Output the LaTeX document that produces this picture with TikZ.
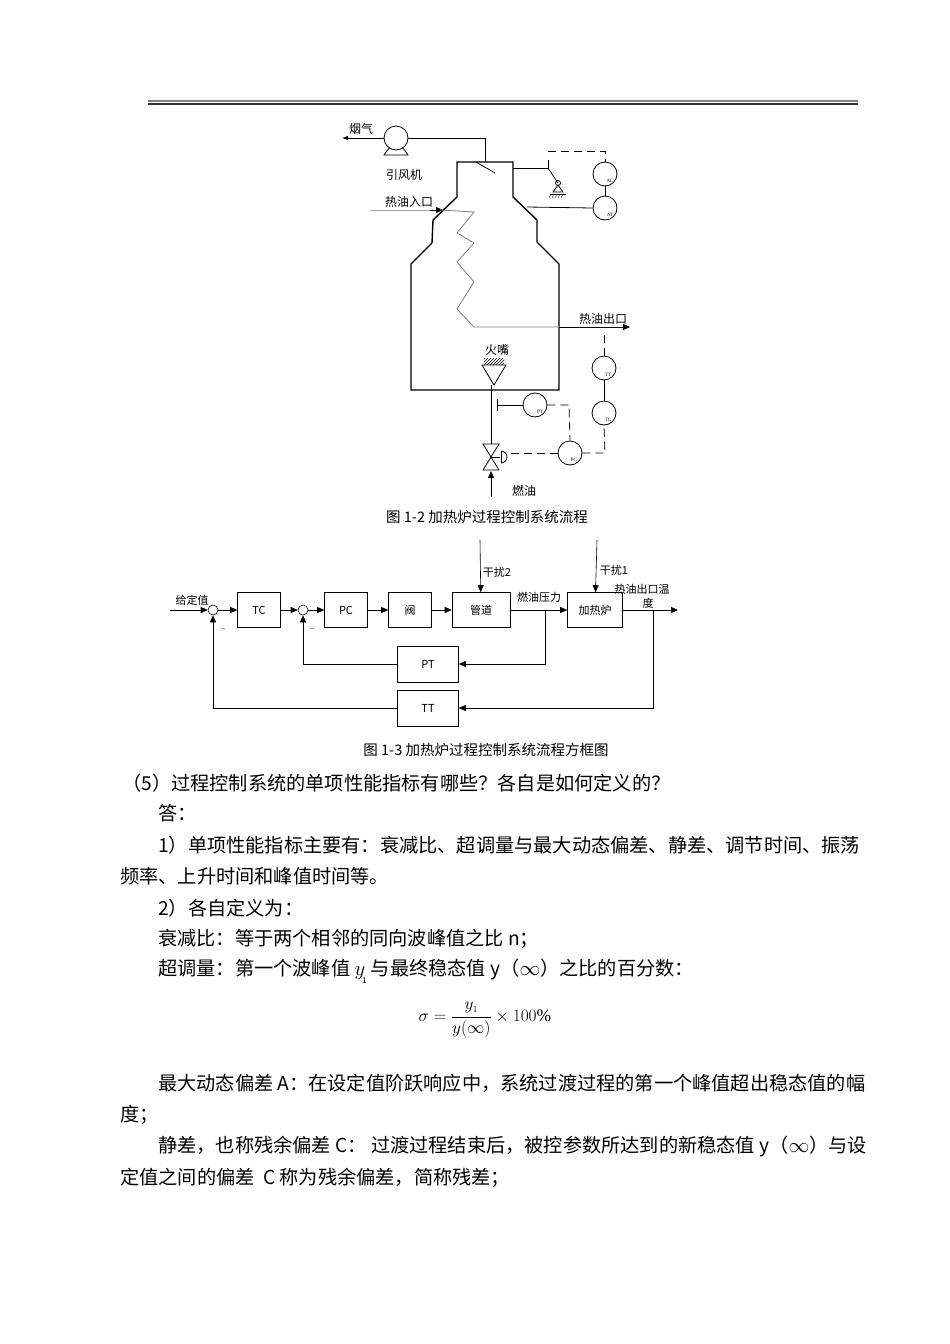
\documentclass[tikz,border=0pt]{standalone}
\usepackage{fontspec}
\setmainfont{Liberation Serif}
\newfontfamily\cjk{Noto Sans CJK SC}
\usetikzlibrary{arrows.meta,patterns}
\tikzset{
 lbl/.style={font=\cjk\fontsize{12}{12}\selectfont,inner sep=0pt},
 capt/.style={font=\cjk\fontsize{14.5}{15}\selectfont,inner sep=0pt},
 body/.style={font=\cjk\fontsize{19.2}{20}\selectfont,inner sep=0pt,anchor=west},
 inst/.style={circle,draw,thick,minimum size=24pt,inner sep=0pt},
 tiny/.style={font=\fontsize{5}{5}\selectfont,inner sep=0pt},
 blk/.style={draw,semithick,minimum width=43pt,minimum height=35pt,inner sep=0pt,font=\cjk\fontsize{11}{11}\selectfont},
 sumc/.style={circle,draw,semithick,minimum size=10pt,inner sep=0pt},
 sig/.style={semithick,-{Triangle[length=7pt,width=6pt]}},
 dsh/.style={thick,dash pattern=on 8pt off 5pt},
}
\begin{document}
\begin{tikzpicture}[x=1pt,y=-1pt]
\useasboundingbox (0,0) rectangle (950,1344);
% header rule
\draw[line width=2pt,gray] (148,101) -- (858,101);
\draw[line width=1.5pt,black!80] (148,104) -- (858,104);
% ===== Figure 1-2 =====
\node[circle,draw,thick,minimum size=24pt,inner sep=0pt] (fan) at (396,138) {};
\draw[thick] (389,148) -- (384,155) -- (408,155) -- (403,148);
\draw[thick,-{Latex[length=6pt]}] (fan.west) -- (342,138);
\node[lbl] at (361,129) {烟气};
\node[lbl] at (404,175) {引风机};
\draw[thick] (fan.east) -- (485,138) -- (485,162);
% furnace walls
\draw[line width=1.4pt] (457,162) -- (513,162) -- (513,197) -- (537,220) -- (537,242) -- (559,264) -- (559,390) -- (411,390) -- (411,264) -- (432,243) -- (433,220) -- (457,197) -- cycle;
% damper
\draw[thick] (476,162) -- (495,173);
\draw[thick] (513,168) -- (548,168) -- (548,160);
\draw[thick] (548,168) -- (558,183);
\node[circle,draw,thick,minimum size=5pt,inner sep=0pt] (piv) at (558,183) {};
\draw[thick] (558,185) -- (553,192) -- (563,192) -- cycle;
\draw[thick] (550,194) -- (566,194);
\foreach \i in {0,...,4} \draw (551+3*\i,194) -- (549+3*\i,198);
\node[inst] (AC) at (605,174) {};
\node[tiny] at (610,181) {AC};
\node[inst] (AT) at (605,208) {};
\node[tiny] at (610,215) {AT};
\draw[thick] (AC) -- (AT);
\draw[dsh] (548,151) -- (605,151) -- (AC.north);
\draw[thick] (527,207) -- (AT.west);
% oil coil
\draw[gray!70,thick] (370,210) -- (440,210);
\draw[thick,-{Triangle[length=7pt,width=6pt]}] (430,210) -- (443,210);
\node[lbl] at (409,202) {热油入口};
\draw[gray,thick] (440,210) -- (474,212) -- (457,233) -- (474,243) -- (457,262) -- (474,282) -- (457,309) -- (474,327) -- (560,327);
\draw[thick,-{Triangle[length=7pt,width=6pt]}] (559,327) -- (630,327);
\node[lbl] at (603,319) {热油出口};
% burner
\draw[thick] (482,365) -- (506,365) -- (494,385) -- cycle;
\fill[pattern=north east lines] (484,358) rectangle (504,364);
\node[lbl] at (497,350) {火嘴};
\draw[thick] (491,385) -- (491,444);
% valve
\draw[thick] (483,444) -- (499,444) -- (483,470) -- (499,470) -- cycle;
\draw[thick] (491,457) -- (500,457);
\draw[thick] (501,451) -- (501,463);
\draw[thick] (501,451) arc (90:-90:6pt);
\draw[thick,-{Triangle[length=7pt,width=6pt]}] (491,497) -- (491,471);
\node[lbl] at (524,491) {燃油};
% PT, PC, TC, TT
\node[inst] (PT) at (535,405) {};
\node[tiny] at (540,412) {PT};
\draw[thick] (PT.west) -- (497,405);
\draw[thick] (497,399) -- (497,411);
\node[inst] (PC) at (570,453) {};
\node[tiny] at (574,460) {PC};
\node[inst] (TC) at (604,413) {};
\node[tiny] at (608,420) {TC};
\node[inst] (TT) at (604,368) {};
\node[tiny] at (608,375) {TT};
\draw[dsh] (PT.east) -- (569,405) -- (PC.north);
\draw[dsh] (PC.west) -- (508,453);
\draw[dsh] (PC.east) -- (605,453) -- (TC.south);
\draw[thick] (TC) -- (TT);
\draw[dsh] (TT.north) -- (604,333);
\node[capt] at (487,517) {图 1-2 加热炉过程控制系统流程};
% ===== Figure 1-3 =====
\node[sumc] (s1) at (213,610) {};
\node[sumc] (s2) at (303,610) {};
\node[blk] (tc) at (259,610) {TC};
\node[blk] (pc) at (346,610) {PC};
\node[blk] (fa) at (410,610) {阀};
\node[blk,minimum width=58pt] (gd) at (481,610) {管道};
\node[blk,minimum width=55pt] (jr) at (595,610) {加热炉};
\node[blk,minimum width=61pt,minimum height=36pt] (pt) at (428,664) {PT};
\node[blk,minimum width=61pt,minimum height=36pt] (tt) at (428,708) {TT};
\coordinate (in) at (170,610);
\coordinate (out) at (678,610);
\coordinate (b1) at (545,610);
\coordinate (b2) at (653,610);
\coordinate (d2) at (480,540);
\coordinate (d1) at (597,540);
\draw[sig] (in) -- (s1);
\draw[sig] (s1) -- (tc);
\draw[sig] (tc) -- (s2);
\draw[sig] (s2) -- (pc);
\draw[sig] (pc) -- (fa);
\draw[sig] (fa) -- (gd);
\draw[sig] (gd) -- (jr);
\draw[sig] (jr) -- (out);
\draw[sig] (d2) -- (gd);
\draw[sig] (d1) -- (jr);
\draw[sig] (b1) |- (pt);
\draw[sig] (b2) |- (tt);
\draw[sig] (pt) -| (s2);
\draw[sig] (tt) -| (s1);
\node[lbl,font=\cjk\fontsize{11}{11}\selectfont] at (192,600) {给定值};
\node[lbl,font=\cjk\fontsize{11}{11}\selectfont] at (497,572) {干扰2};
\node[lbl,font=\cjk\fontsize{11}{11}\selectfont] at (614,570) {干扰1};
\node[lbl,font=\cjk\fontsize{11}{11}\selectfont] at (539,597) {燃油压力};
\node[lbl,font=\cjk\fontsize{11}{11}\selectfont] at (642,589) {热油出口温};
\node[lbl,font=\cjk\fontsize{11}{11}\selectfont] at (648,603) {度};
\node[lbl,font=\fontsize{8}{8}\selectfont] at (223,629) {\_};
\node[lbl,font=\fontsize{8}{8}\selectfont] at (312,629) {\_};
\node[capt] at (486,750) {图 1-3 加热炉过程控制系统流程方框图};
% ===== Body text =====
\node[body] at (122,783) {（5）过程控制系统的单项性能指标有哪些？各自是如何定义的？};
\node[body] at (158,813) {答：};
\node[body] at (158,845) {1）单项性能指标主要有：衰减比、超调量与最大动态偏差、静差、调节时间、振荡};
\node[body] at (120,876) {频率、上升时间和峰值时间等。};
\node[body] at (158,908) {2）各自定义为：};
\node[body] at (158,939) {衰减比：等于两个相邻的同向波峰值之比 n；};
\node[body] at (158,971) {超调量：第一个波峰值 \raisebox{0pt}{\fontsize{20}{20}\selectfont$y$}\kern-3pt\raisebox{-8pt}{\fontsize{8}{8}\selectfont 1} 与最终稳态值 y（$\infty$）之比的百分数：};
\node[font=\fontsize{17.5}{18}\selectfont,inner sep=0pt] at (485,1020) {$\displaystyle\sigma=\frac{y_{\scriptscriptstyle 1}}{y(\infty)}\times100\%$};
\node[body] at (158,1083) {最大动态偏差 A：在设定值阶跃响应中，系统过渡过程的第一个峰值超出稳态值的幅};
\node[body] at (120,1115) {度；};
\node[body] at (158,1147) {静差，也称残余偏差 C：\ 过渡过程结束后，被控参数所达到的新稳态值 y（$\infty$）与设};
\node[body] at (120,1178) {定值之间的偏差\ \ C 称为残余偏差，简称残差；};
\end{tikzpicture}
\end{document}
